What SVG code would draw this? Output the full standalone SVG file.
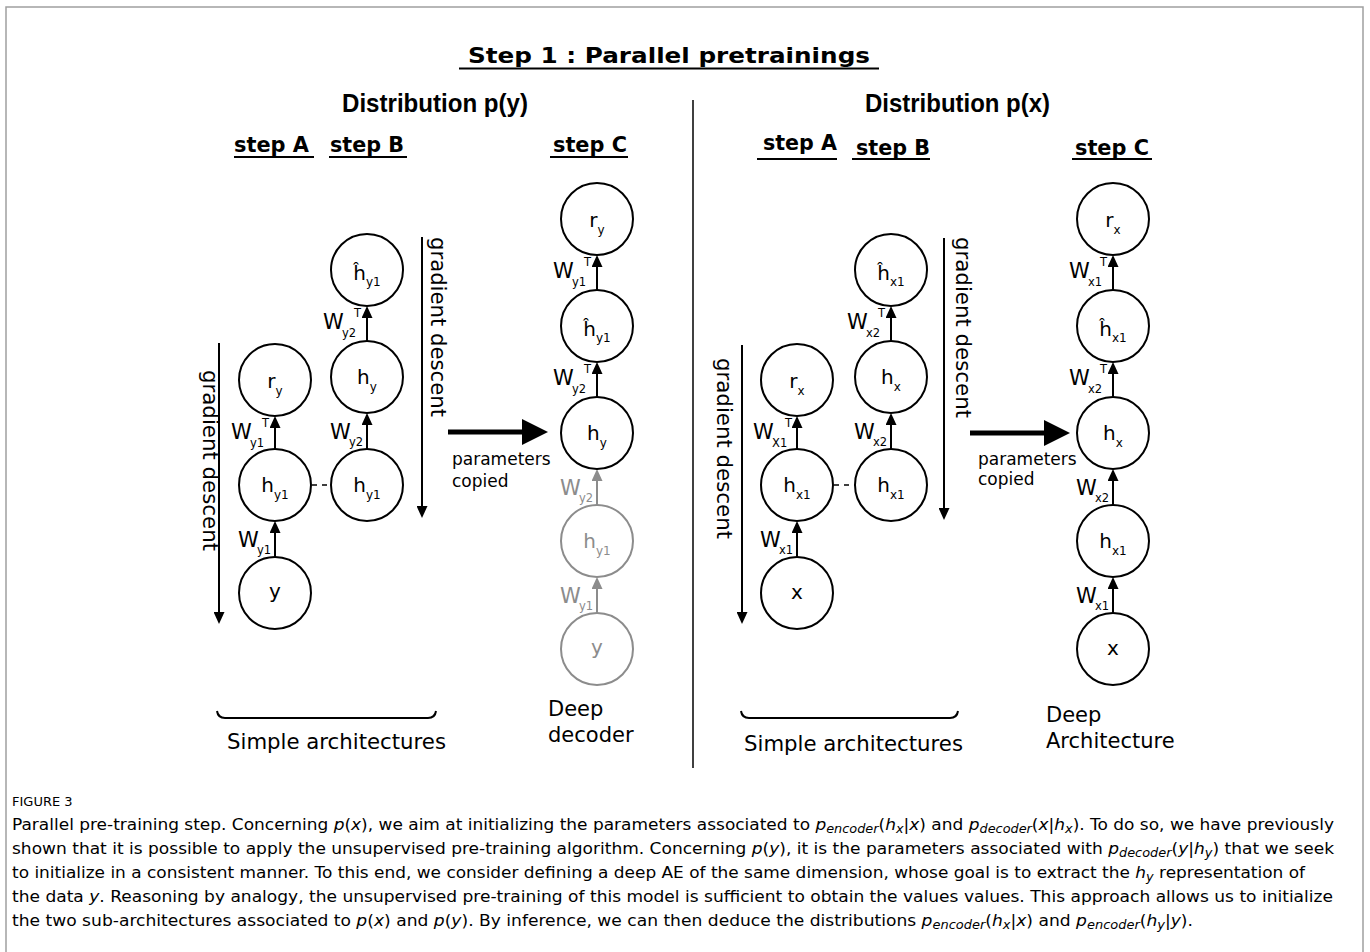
<svg xmlns="http://www.w3.org/2000/svg" width="1370" height="952" viewBox="0 0 1370 952">
<style>
text{font-family:"DejaVu Sans","Verdana",sans-serif;fill:#000}
.ttl{font-size:22px;font-weight:bold}
.dist{font-family:"Liberation Sans",Arial,sans-serif;font-size:26px;font-weight:bold}
.stp{font-size:21px;font-weight:bold}
.nl{font-size:20px;text-anchor:middle}
.w{font-size:21px}
.sb{font-size:12px}
.ws{font-size:11.5px}
.sp{font-size:11.5px}
.gd{font-size:21px}
.par{font-size:17px}
.big{font-size:21px}
.n circle{fill:#fff;stroke:#000;stroke-width:2}
.gr circle{stroke:#8c8c8c}
.gr text,.gt{fill:#8c8c8c}
.ar{stroke:#000;stroke-width:2;fill:none;marker-end:url(#ah)}
.arg{stroke:#8c8c8c;stroke-width:2;fill:none;marker-end:url(#ahg)}
.ul{stroke:#000;stroke-width:2}
.cap{font-family:"Open Sans","Lato",sans-serif;font-size:16.5px;fill:#5f5f5f}
.cap .i{font-style:italic}
.cap .s{font-size:12.5px;font-style:italic}
</style>
<defs>
<marker id="ah" viewBox="0 0 12 11" refX="10" refY="5.5" markerWidth="12" markerHeight="11" markerUnits="userSpaceOnUse" orient="auto"><path d="M0,0 L12,5.5 L0,11 z" fill="#000"/></marker>
<marker id="ahg" viewBox="0 0 12 11" refX="10" refY="5.5" markerWidth="12" markerHeight="11" markerUnits="userSpaceOnUse" orient="auto"><path d="M0,0 L12,5.5 L0,11 z" fill="#8c8c8c"/></marker>
</defs>
<rect width="1370" height="952" fill="#fff"/>
<path d="M6,952 V7 H1363 V952" fill="none" stroke="#a0a0a0" stroke-width="1.5"/>

<g id="title">
<text class="ttl" x="468" y="63" textLength="402" lengthAdjust="spacingAndGlyphs">Step 1 : Parallel pretrainings</text>
<line class="ul" x1="459" y1="68.5" x2="879" y2="68.5"/>
</g>
<line id="divider" x1="693" y1="100" x2="693" y2="768" stroke="#000" stroke-width="1.5"/>

<g id="headers">
<text class="dist" x="342" y="112" textLength="186" lengthAdjust="spacingAndGlyphs">Distribution p(y)</text>
<text class="dist" x="865" y="112" textLength="185" lengthAdjust="spacingAndGlyphs">Distribution p(x)</text>
<text class="stp" x="234" y="152" textLength="75" lengthAdjust="spacingAndGlyphs">step A</text>
<line class="ul" x1="234" y1="157" x2="314" y2="157"/>
<text class="stp" x="330" y="152" textLength="74" lengthAdjust="spacingAndGlyphs">step B</text>
<line class="ul" x1="329" y1="157" x2="407" y2="157"/>
<text class="stp" x="553" y="152" textLength="74" lengthAdjust="spacingAndGlyphs">step C</text>
<line class="ul" x1="550" y1="157" x2="628" y2="157"/>
<text class="stp" x="763" y="150" textLength="74" lengthAdjust="spacingAndGlyphs">step A</text>
<line class="ul" x1="757" y1="159" x2="837" y2="159"/>
<text class="stp" x="856" y="155" textLength="74" lengthAdjust="spacingAndGlyphs">step B</text>
<line class="ul" x1="852" y1="159" x2="930" y2="159"/>
<text class="stp" x="1075" y="155" textLength="74" lengthAdjust="spacingAndGlyphs">step C</text>
<line class="ul" x1="1072" y1="159" x2="1152" y2="159"/>
</g>

<g id="connectors">
<line class="ar" x1="275" y1="449" x2="275" y2="418"/>
<line class="ar" x1="275" y1="557" x2="275" y2="523"/>
<line class="ar" x1="367" y1="449" x2="367" y2="415"/>
<line class="ar" x1="367" y1="341" x2="367" y2="308"/>
<line x1="312" y1="485" x2="331" y2="485" stroke="#000" stroke-width="1.5" stroke-dasharray="5,5"/>
<line class="ar" x1="597" y1="290" x2="597" y2="257"/>
<line class="ar" x1="597" y1="397" x2="597" y2="364"/>
<line class="arg" x1="597" y1="505" x2="597" y2="471"/>
<line class="arg" x1="597" y1="613" x2="597" y2="579"/>
<line class="ar" x1="797" y1="449" x2="797" y2="418"/>
<line class="ar" x1="797" y1="557" x2="797" y2="523"/>
<line class="ar" x1="891" y1="449" x2="891" y2="415"/>
<line class="ar" x1="891" y1="341" x2="891" y2="308"/>
<line x1="834" y1="485" x2="855" y2="485" stroke="#000" stroke-width="1.5" stroke-dasharray="5,5"/>
<line class="ar" x1="1113" y1="290" x2="1113" y2="257"/>
<line class="ar" x1="1113" y1="397" x2="1113" y2="364"/>
<line class="ar" x1="1113" y1="505" x2="1113" y2="471"/>
<line class="ar" x1="1113" y1="613" x2="1113" y2="579"/>
<line class="ar" x1="219" y1="343" x2="219" y2="622"/>
<line class="ar" x1="422" y1="237" x2="422" y2="516"/>
<line class="ar" x1="742" y1="345" x2="742" y2="622"/>
<line class="ar" x1="944" y1="238" x2="944" y2="518"/>
<line x1="448" y1="432" x2="526" y2="432" stroke="#000" stroke-width="5"/>
<path d="M522,419 L548,432 L522,445 z" fill="#000"/>
<line x1="970" y1="433" x2="1048" y2="433" stroke="#000" stroke-width="5"/>
<path d="M1044,420 L1070,433 L1044,446 z" fill="#000"/>
</g>

<g id="edge-labels">
<text class="w" x="231" y="439">W<tspan class="ws" x="250" y="447">y1</tspan><tspan class="sp" x="262" y="427">T</tspan></text>
<text class="w" x="238" y="547">W<tspan class="ws" x="257" y="554">y1</tspan></text>
<text class="w" x="330" y="439">W<tspan class="ws" x="349" y="446">y2</tspan></text>
<text class="w" x="323" y="329">W<tspan class="ws" x="342" y="337">y2</tspan><tspan class="sp" x="354" y="317">T</tspan></text>
<text class="w" x="553" y="278">W<tspan class="ws" x="572" y="286">y1</tspan><tspan class="sp" x="584" y="266">T</tspan></text>
<text class="w" x="553" y="385">W<tspan class="ws" x="572" y="393">y2</tspan><tspan class="sp" x="584" y="373">T</tspan></text>
<text class="w gt" x="560" y="495">W<tspan class="ws" x="579" y="502">y2</tspan></text>
<text class="w gt" x="560" y="603">W<tspan class="ws" x="579" y="610">y1</tspan></text>
<text class="w" x="753" y="439">W<tspan class="ws" x="772" y="447">X1</tspan><tspan class="sp" x="785" y="427">T</tspan></text>
<text class="w" x="760" y="547">W<tspan class="ws" x="779" y="554">x1</tspan></text>
<text class="w" x="854" y="439">W<tspan class="ws" x="873" y="446">x2</tspan></text>
<text class="w" x="847" y="329">W<tspan class="ws" x="866" y="337">x2</tspan><tspan class="sp" x="878" y="317">T</tspan></text>
<text class="w" x="1069" y="278">W<tspan class="ws" x="1088" y="286">x1</tspan><tspan class="sp" x="1100" y="266">T</tspan></text>
<text class="w" x="1069" y="385">W<tspan class="ws" x="1088" y="393">x2</tspan><tspan class="sp" x="1100" y="373">T</tspan></text>
<text class="w" x="1076" y="495">W<tspan class="ws" x="1095" y="502">x2</tspan></text>
<text class="w" x="1076" y="603">W<tspan class="ws" x="1095" y="610">x1</tspan></text>
<text class="gd" transform="translate(203,370) rotate(90)" textLength="181" lengthAdjust="spacingAndGlyphs">gradient descent</text>
<text class="gd" transform="translate(431,237) rotate(90)" textLength="180" lengthAdjust="spacingAndGlyphs">gradient descent</text>
<text class="gd" transform="translate(717,358) rotate(90)" textLength="181" lengthAdjust="spacingAndGlyphs">gradient descent</text>
<text class="gd" transform="translate(956,237) rotate(90)" textLength="181" lengthAdjust="spacingAndGlyphs">gradient descent</text>
<text class="par" x="452" y="465">parameters</text>
<text class="par" x="452" y="487">copied</text>
<text class="par" x="978" y="465">parameters</text>
<text class="par" x="978" y="485">copied</text>
</g>

<g id="nA_ry" class="n"><circle cx="275" cy="380" r="36"/><text class="nl" x="275" y="388">r<tspan class="sb" dy="7">y</tspan></text></g>
<g id="nA_hy1" class="n"><circle cx="275" cy="485" r="36"/><text class="nl" x="275" y="492">h<tspan class="sb" dy="7">y1</tspan></text></g>
<g id="nA_y" class="n"><circle cx="275" cy="593" r="36"/><text class="nl" x="275" y="598">y</text></g>
<g id="nB_hhat" class="n"><circle cx="367" cy="270" r="36"/><text class="nl" x="367" y="280">ĥ<tspan class="sb" dy="6">y1</tspan></text></g>
<g id="nB_hy" class="n"><circle cx="367" cy="377" r="36"/><text class="nl" x="367" y="384">h<tspan class="sb" dy="7">y</tspan></text></g>
<g id="nB_hy1" class="n"><circle cx="367" cy="485" r="36"/><text class="nl" x="367" y="492">h<tspan class="sb" dy="7">y1</tspan></text></g>
<g id="nC_ry" class="n"><circle cx="597" cy="219" r="36"/><text class="nl" x="597" y="227">r<tspan class="sb" dy="7">y</tspan></text></g>
<g id="nC_hhat" class="n"><circle cx="597" cy="326" r="36"/><text class="nl" x="597" y="336">ĥ<tspan class="sb" dy="6">y1</tspan></text></g>
<g id="nC_hy" class="n"><circle cx="597" cy="433" r="36"/><text class="nl" x="597" y="440">h<tspan class="sb" dy="7">y</tspan></text></g>
<g id="nC_hy1" class="n gr"><circle cx="597" cy="541" r="36"/><text class="nl" x="597" y="548">h<tspan class="sb" dy="7">y1</tspan></text></g>
<g id="nC_y" class="n gr"><circle cx="597" cy="649" r="36"/><text class="nl" x="597" y="654">y</text></g>

<g id="xA_rx" class="n"><circle cx="797" cy="380" r="36"/><text class="nl" x="797" y="388">r<tspan class="sb" dy="7">x</tspan></text></g>
<g id="xA_hx1" class="n"><circle cx="797" cy="485" r="36"/><text class="nl" x="797" y="492">h<tspan class="sb" dy="7">x1</tspan></text></g>
<g id="xA_x" class="n"><circle cx="797" cy="593" r="36"/><text class="nl" x="797" y="599">x</text></g>
<g id="xB_hhat" class="n"><circle cx="891" cy="270" r="36"/><text class="nl" x="891" y="280">ĥ<tspan class="sb" dy="6">x1</tspan></text></g>
<g id="xB_hx" class="n"><circle cx="891" cy="377" r="36"/><text class="nl" x="891" y="384">h<tspan class="sb" dy="7">x</tspan></text></g>
<g id="xB_hx1" class="n"><circle cx="891" cy="485" r="36"/><text class="nl" x="891" y="492">h<tspan class="sb" dy="7">x1</tspan></text></g>
<g id="xC_rx" class="n"><circle cx="1113" cy="219" r="36"/><text class="nl" x="1113" y="227">r<tspan class="sb" dy="7">x</tspan></text></g>
<g id="xC_hhat" class="n"><circle cx="1113" cy="326" r="36"/><text class="nl" x="1113" y="336">ĥ<tspan class="sb" dy="6">x1</tspan></text></g>
<g id="xC_hx" class="n"><circle cx="1113" cy="433" r="36"/><text class="nl" x="1113" y="440">h<tspan class="sb" dy="7">x</tspan></text></g>
<g id="xC_hx1" class="n"><circle cx="1113" cy="541" r="36"/><text class="nl" x="1113" y="548">h<tspan class="sb" dy="7">x1</tspan></text></g>
<g id="xC_x" class="n"><circle cx="1113" cy="649" r="36"/><text class="nl" x="1113" y="655">x</text></g>

<g id="groups">
<path d="M217,711 Q218,718 225,718 L428,718 Q435,718 436,711" fill="none" stroke="#000" stroke-width="2"/>
<text class="big" x="227" y="749" textLength="219" lengthAdjust="spacingAndGlyphs">Simple architectures</text>
<path d="M741,711 Q742,718 749,718 L950,718 Q957,718 958,711" fill="none" stroke="#000" stroke-width="2"/>
<text class="big" x="744" y="751" textLength="219" lengthAdjust="spacingAndGlyphs">Simple architectures</text>
<text class="big" x="548" y="716">Deep</text>
<text class="big" x="548" y="742">decoder</text>
<text class="big" x="1046" y="722">Deep</text>
<text class="big" x="1046" y="748">Architecture</text>
</g>

<g id="caption" class="cap">
<text x="12" y="806" style="font-size:13px">FIGURE 3</text>
<text x="12" y="830" textLength="1322" lengthAdjust="spacingAndGlyphs">Parallel pre-training step. Concerning <tspan class="i">p</tspan>(<tspan class="i">x</tspan>), we aim at initializing the parameters associated to <tspan class="i">p</tspan><tspan class="s" dy="3">encoder</tspan><tspan dy="-3">(</tspan><tspan class="i">h</tspan><tspan class="s" dy="3">x</tspan><tspan dy="-3">|</tspan><tspan class="i">x</tspan>) and <tspan class="i">p</tspan><tspan class="s" dy="3">decoder</tspan><tspan dy="-3">(</tspan><tspan class="i">x</tspan>|<tspan class="i">h</tspan><tspan class="s" dy="3">x</tspan><tspan dy="-3">). To do so, we have previously</tspan></text>
<text x="12" y="854" textLength="1322" lengthAdjust="spacingAndGlyphs">shown that it is possible to apply the unsupervised pre-training algorithm. Concerning <tspan class="i">p</tspan>(<tspan class="i">y</tspan>), it is the parameters associated with <tspan class="i">p</tspan><tspan class="s" dy="3">decoder</tspan><tspan dy="-3">(</tspan><tspan class="i">y</tspan>|<tspan class="i">h</tspan><tspan class="s" dy="3">y</tspan><tspan dy="-3">) that we seek</tspan></text>
<text x="12" y="878" textLength="1293" lengthAdjust="spacingAndGlyphs">to initialize in a consistent manner. To this end, we consider defining a deep AE of the same dimension, whose goal is to extract the <tspan class="i">h</tspan><tspan class="s" dy="3">y</tspan><tspan dy="-3"> representation of</tspan></text>
<text x="12" y="902" textLength="1321" lengthAdjust="spacingAndGlyphs">the data <tspan class="i">y</tspan>. Reasoning by analogy, the unsupervised pre-training of this model is sufficient to obtain the values values. This approach allows us to initialize</text>
<text x="12" y="926" textLength="1181" lengthAdjust="spacingAndGlyphs">the two sub-architectures associated to <tspan class="i">p</tspan>(<tspan class="i">x</tspan>) and <tspan class="i">p</tspan>(<tspan class="i">y</tspan>). By inference, we can then deduce the distributions <tspan class="i">p</tspan><tspan class="s" dy="3">encoder</tspan><tspan dy="-3">(</tspan><tspan class="i">h</tspan><tspan class="s" dy="3">x</tspan><tspan dy="-3">|</tspan><tspan class="i">x</tspan>) and <tspan class="i">p</tspan><tspan class="s" dy="3">encoder</tspan><tspan dy="-3">(</tspan><tspan class="i">h</tspan><tspan class="s" dy="3">y</tspan><tspan dy="-3">|</tspan><tspan class="i">y</tspan>).</text>
</g>
</svg>
